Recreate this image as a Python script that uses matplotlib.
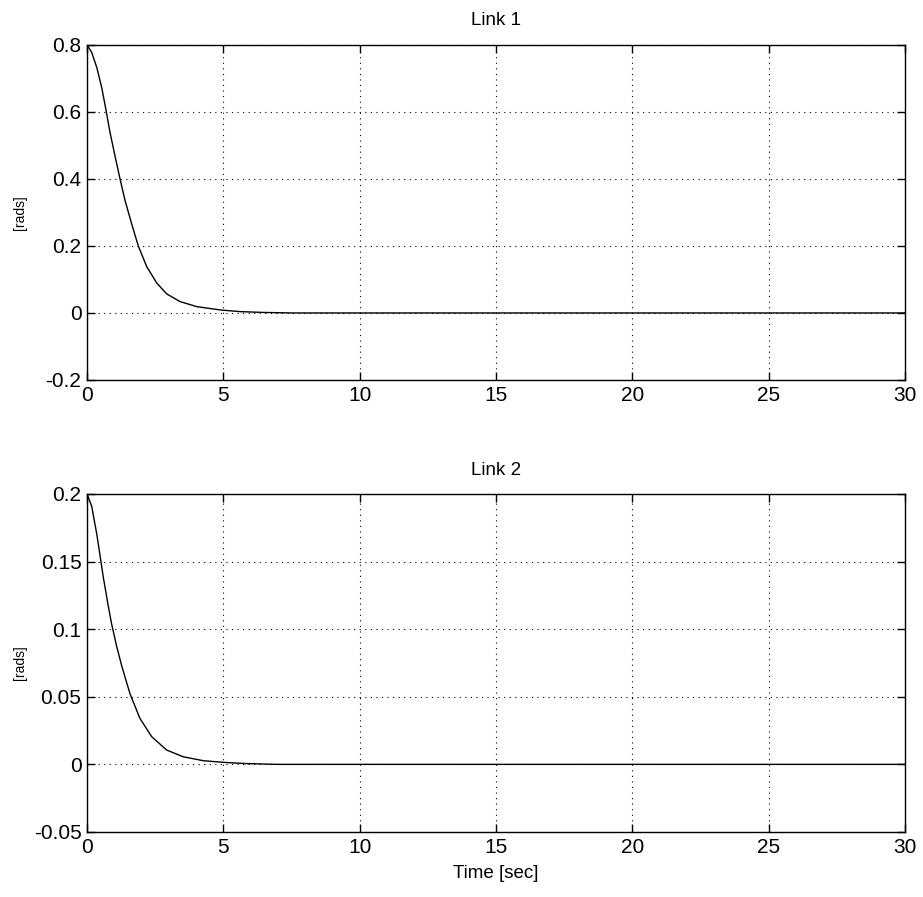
import matplotlib
matplotlib.use('Agg')
import matplotlib.pyplot as plt

plt.rcParams['font.family'] = ['Liberation Sans', 'DejaVu Sans']

# values
t1 = [0.0, 0.17, 0.36, 0.54, 0.69, 0.84, 1.03, 1.21, 1.39, 1.64, 1.88, 2.19, 2.56,
      2.92, 3.41, 4.02, 4.88, 5.61, 6.5, 7.5, 10.0, 30.0]
q1 = [0.80, 0.778, 0.732, 0.672, 0.608, 0.540, 0.467, 0.40, 0.337, 0.265, 0.200, 0.138, 0.089,
      0.057, 0.034, 0.019, 0.009, 0.004, 0.0015, 0.0, 0.0, 0.0]

t2 = [0.0, 0.17, 0.36, 0.48, 0.60, 0.78, 0.90, 1.09, 1.27, 1.46, 1.58, 1.94, 2.37,
      2.92, 3.53, 4.27, 5.0, 5.8, 7.0, 10.0, 30.0]
q2 = [0.200, 0.191, 0.170, 0.154, 0.138, 0.117, 0.104, 0.087, 0.073, 0.060, 0.052, 0.034, 0.0205,
      0.0106, 0.0056, 0.0027, 0.0015, 0.0006, 0.0, 0.0, 0.0]

xticks = [0, 5, 10, 15, 20, 25, 30]
yticks1 = [-0.2, 0, 0.2, 0.4, 0.6, 0.8]
ylabels1 = ['-0.2', '0', '0.2', '0.4', '0.6', '0.8']
yticks2 = [-0.05, 0, 0.05, 0.1, 0.15, 0.2]
ylabels2 = ['-0.05', '0', '0.05', '0.1', '0.15', '0.2']

fontsize = 15

fig = plt.figure(figsize=(9.23, 8.97), dpi=100)
ax1 = fig.add_axes([0.0943, 0.5764, 0.8862, 0.3735])
ax2 = fig.add_axes([0.0943, 0.0725, 0.8862, 0.3768])

def style(ax, t, q, yticks, ylabels, title):
    ax.plot(t, q, color='black', linewidth=1.0)
    ax.set_xlim(0, 30)
    ax.set_ylim(yticks[0], yticks[-1])
    ax.set_xticks(xticks)
    ax.set_xticklabels([str(x) for x in xticks], fontsize=fontsize)
    ax.set_yticks(yticks)
    ax.set_yticklabels(ylabels, fontsize=fontsize)
    ax.tick_params(direction='in', length=6, width=1, top=True, right=True, pad=4)
    ax.grid(True, color='black', linestyle=(0, (1, 4)), linewidth=0.8)
    for s in ax.spines.values():
        s.set_linewidth(1.0)
    ax.set_title(title, fontsize=13.5, pad=14)
    ax.set_ylabel('[rads]', fontsize=10)
    ax.yaxis.set_label_coords(-0.074, 0.5)

style(ax1, t1, q1, yticks1, ylabels1, 'Link 1')
style(ax2, t2, q2, yticks2, ylabels2, 'Link 2')
ax2.set_xlabel('Time [sec]', fontsize=13.5, labelpad=6)

fig.savefig('out.png', dpi=100)
